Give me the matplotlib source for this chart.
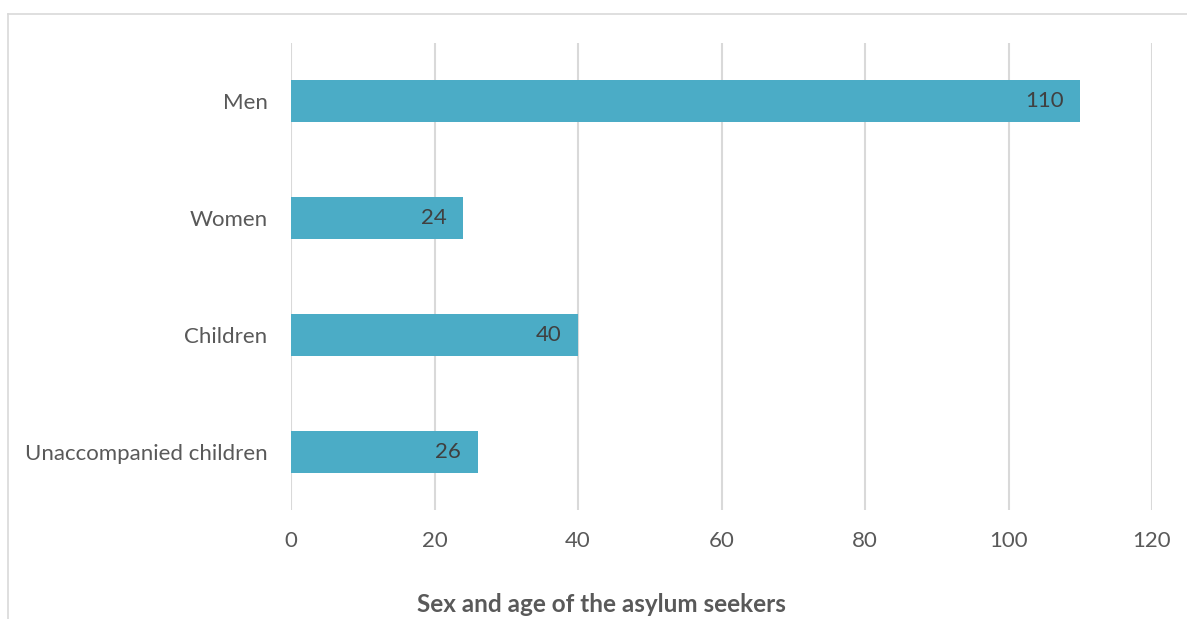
import matplotlib
matplotlib.use("Agg")
import matplotlib.pyplot as plt
from matplotlib.lines import Line2D

categories = ["Men", "Women", "Children", "Unaccompanied children"]
values = [110, 24, 40, 26]
xticks = [0, 20, 40, 60, 80, 100, 120]
title = "Sex and age of the asylum seekers"

plt.rcParams['font.family'] = ['Lato', 'DejaVu Sans']
W, H = 1187, 619
fig = plt.figure(figsize=(W/100, H/100), dpi=100)
ax = fig.add_axes([291/W, 1-510/H, (1152-291)/W, (510-43)/H])

ypos = list(range(len(categories)))
bars = ax.barh(ypos, values, height=0.36, color="#4BACC6", zorder=3)
ax.set_ylim(len(categories)-0.5, -0.5)
ax.set_xlim(0, 120)
ax.set_xticks(xticks)
ax.set_xticklabels([str(t) for t in xticks])
ax.set_yticks(ypos)
ax.set_yticklabels(categories)
ax.grid(axis="x", color="#D9D9D9", linewidth=1.5, zorder=0)
for s in ax.spines.values():
    s.set_visible(False)
ax.tick_params(axis="both", length=0, labelsize=16, colors="#595959")
ax.tick_params(axis="x", pad=15)
ax.tick_params(axis="y", pad=17)

for b, v in zip(bars, values):
    ax.annotate(str(v), xy=(b.get_width(), b.get_y()+b.get_height()/2),
                xytext=(-12, 0), textcoords="offset points",
                ha="right", va="center", fontsize=16, color="#404040", zorder=4)

fig.text(601/W, 1-604/H, title, ha="center", va="center", fontsize=17.5,
         fontweight="bold", color="#595959")

fig.add_artist(Line2D([8/W, 1.0], [1-14/H, 1-14/H], transform=fig.transFigure,
                      color="#D9D9D9", linewidth=1.2))
fig.add_artist(Line2D([8/W, 8/W], [1-14/H, 0], transform=fig.transFigure,
                      color="#D9D9D9", linewidth=1.2))

fig.savefig("out.png", dpi=100, facecolor="white")
